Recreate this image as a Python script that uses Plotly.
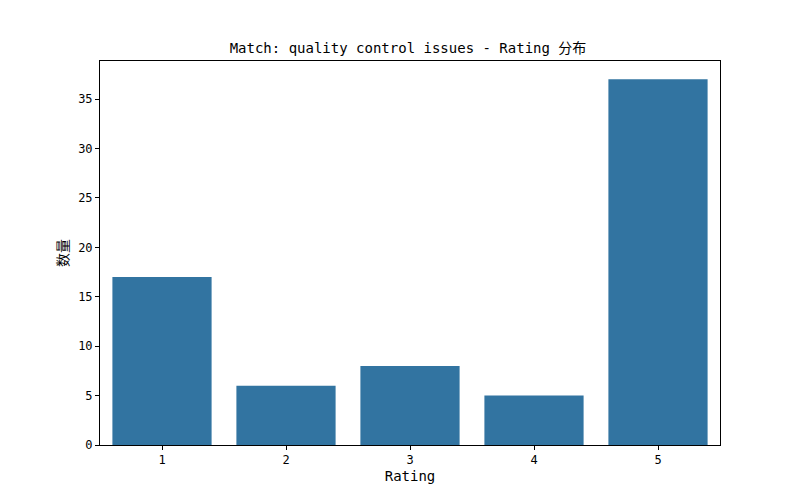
import plotly.graph_objects as go

categories = ["1", "2", "3", "4", "5"]
counts = [17, 6, 8, 5, 37]
y_ticks = [0, 5, 10, 15, 20, 25, 30, 35]

font = "DejaVu Sans Mono, Noto Sans CJK SC"
fig = go.Figure(go.Bar(x=categories, y=counts, marker_color="#3274a1",
                       marker_line_width=0, width=0.8))
fig.update_layout(
    width=800, height=500, plot_bgcolor="white", paper_bgcolor="white",
    margin=dict(l=92, r=88, t=53, b=63),
    font=dict(family=font, size=12, color="black"),
    title=dict(text="Match: quality control issues - Rating 分布", x=0.5, xanchor="center",
               y=1 - 40/500, yanchor="middle", font=dict(size=14)),
    showlegend=False,
)
axis_common = dict(showline=True, linecolor="black", linewidth=1, mirror=True,
                   ticks="outside", ticklen=4, tickcolor="black", showgrid=False, zeroline=False)
fig.update_xaxes(title=dict(text="Rating", standoff=4), range=[-0.5, 4.5], **axis_common)
fig.update_yaxes(title=dict(text="数量", standoff=6), range=[0, 38.85], tickvals=y_ticks, **axis_common)
fig.write_html("out.html")
